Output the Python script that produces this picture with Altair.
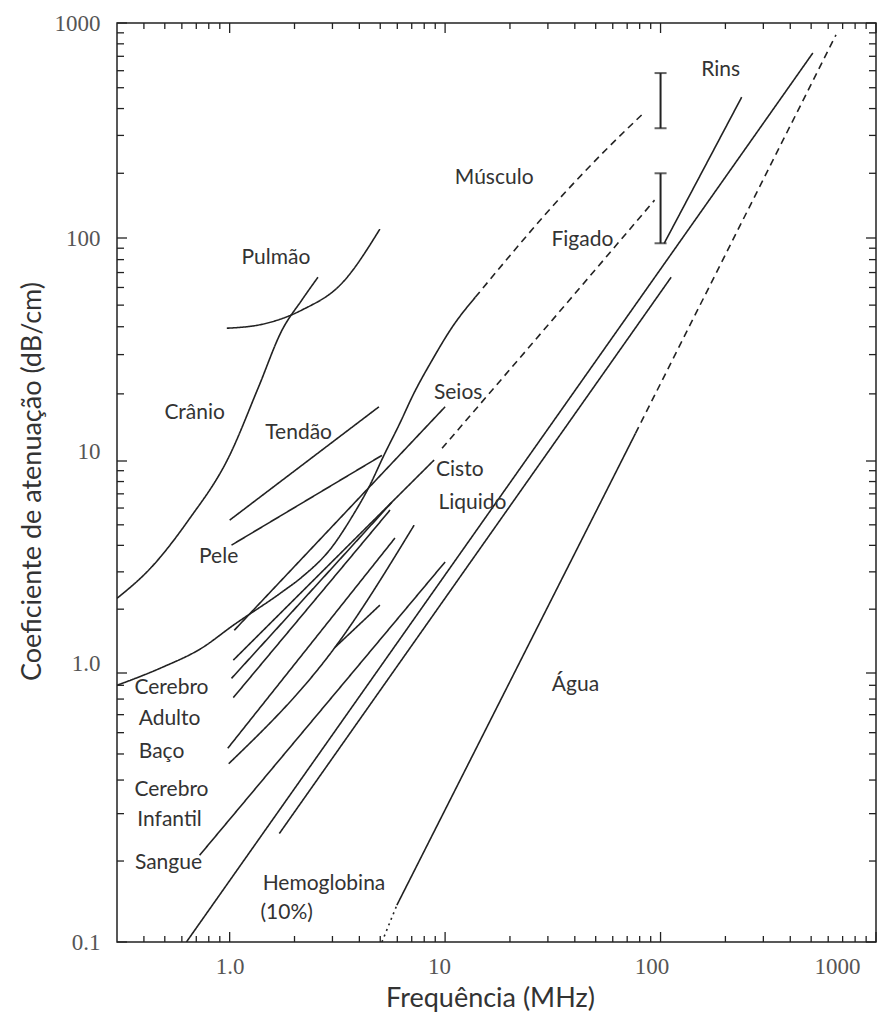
import altair as alt
import pandas as pd

# ---------------- axis ticks ----------------
x_major = [1, 10, 100, 1000]
x_minor = [0.4, 0.5, 0.6, 0.7, 0.8, 0.9, 2, 3, 4, 5, 6, 7, 8, 9,
           20, 30, 40, 50, 60, 70, 80, 90, 200, 300, 400, 500, 600, 700, 800, 900]
y_major = [0.1, 1, 10, 100, 1000]
y_minor = [0.2, 0.3, 0.4, 0.5, 0.6, 0.7, 0.8, 0.9, 2, 3, 4, 5, 6, 7, 8, 9,
           20, 30, 40, 50, 60, 70, 80, 90, 200, 300, 400, 500, 600, 700, 800, 900]

# ---------------- curves (frequency MHz, attenuation dB/cm) ----------------
pulmao_x = [0.97, 1.41, 2.16, 3.32, 4.98]
pulmao_y = [39.4, 41, 47.5, 62.7, 110]
cranio_x = [0.3, 0.434, 0.644, 0.99, 1.36, 1.75, 2.16, 2.57]
cranio_y = [2.25, 3.16, 5.26, 10.4, 21.4, 38.6, 52.6, 66.7]
tendao_x = [1.0, 4.93]
tendao_y = [5.26, 17.5]
pele_x = [1.02, 5.09]
pele_y = [4.01, 10.6]
musculo_x = [0.3, 0.483, 0.741, 1.04, 1.75, 2.16, 2.98, 3.69, 4.43, 5.2, 6.11, 7.18, 8.70, 10.78, 13.8]
musculo_y = [0.90, 1.06, 1.31, 1.68, 2.41, 2.83, 3.92, 5.44, 7.53, 10.6, 14.5, 20.2, 28.3, 39.8, 54.2]
musculo_ext_x = [13.8, 36.9, 55.5, 83.4]
musculo_ext_y = [54.2, 167, 256, 381]
figado_x = [1.04, 8.89]
figado_y = [1.15, 10.1]
figado_ext_x = [9.68, 37.7, 93.8]
figado_ext_y = [11.4, 52.6, 150]
rins_x = [104, 238]
rins_y = [94.7, 452]
seios_x = [1.05, 10]
seios_y = [1.59, 17.5]
cerebro_a1_x = [1.02, 5.67]
cerebro_a1_y = [0.955, 6.4]
cerebro_a2_x = [1.04, 5.55]
cerebro_a2_y = [0.81, 5.87]
baco1_x = [0.98, 5.85]
baco1_y = [0.525, 4.33]
baco2_x = [0.99, 3.08, 7.18]
baco2_y = [0.46, 1.32, 4.98]
infantil_x = [3.08, 4.98]
infantil_y = [1.32, 2.09]
sangue_x = [0.725, 10]
sangue_y = [0.21, 3.34]
linha1_x = [1.70, 112]
linha1_y = [0.253, 66.7]
hemoglobina_x = [0.63, 509]
hemoglobina_y = [0.1, 725]
agua_dot_x = [5.09, 5.97]
agua_dot_y = [0.1, 0.137]
agua_x = [5.97, 76.5]
agua_y = [0.137, 13.3]
agua_ext_x = [76.5, 652]
agua_ext_y = [13.3, 880]

series = [
    ("pulmao", "solid", pulmao_x, pulmao_y),
    ("cranio", "solid", cranio_x, cranio_y),
    ("tendao", "solid", tendao_x, tendao_y),
    ("pele", "solid", pele_x, pele_y),
    ("musculo", "solid", musculo_x, musculo_y),
    ("musculo_ext", "dashed", musculo_ext_x, musculo_ext_y),
    ("figado", "solid", figado_x, figado_y),
    ("figado_ext", "dashed", figado_ext_x, figado_ext_y),
    ("rins", "solid", rins_x, rins_y),
    ("seios", "solid", seios_x, seios_y),
    ("cerebro_a1", "solid", cerebro_a1_x, cerebro_a1_y),
    ("cerebro_a2", "solid", cerebro_a2_x, cerebro_a2_y),
    ("baco1", "solid", baco1_x, baco1_y),
    ("baco2", "solid", baco2_x, baco2_y),
    ("infantil", "solid", infantil_x, infantil_y),
    ("sangue", "solid", sangue_x, sangue_y),
    ("linha1", "solid", linha1_x, linha1_y),
    ("hemoglobina", "solid", hemoglobina_x, hemoglobina_y),
    ("agua_dot", "dotted", agua_dot_x, agua_dot_y),
    ("agua", "solid", agua_x, agua_y),
    ("agua_ext", "dashed", agua_ext_x, agua_ext_y),
]

# error bars at 100 MHz
err_x = [100, 100]
err_lo = [324, 94.7]
err_hi = [585, 200]

# text annotations
label_text = ["Pulmão", "Crânio", "Tendão", "Pele", "Seios", "Cisto", "Liquido",
              "Músculo", "Figado", "Rins", "Água", "Cerebro", "Adulto", "Baço",
              "Cerebro", "Infantil", "Sangue", "Hemoglobina", "(10%)"]
label_x = [1.64, 0.688, 2.09, 0.889, 11.5, 11.7, 13.4, 16.9, 43.4, 190, 40.3,
           0.537, 0.526, 0.483, 0.537, 0.526, 0.52, 2.74, 1.84]
label_y = [81, 16.4, 13.4, 3.52, 20.1, 9.06, 6.34, 190, 97.5, 604, 0.90,
           0.877, 0.672, 0.507, 0.366, 0.283, 0.196, 0.164, 0.128]

# ---------------- build tables ----------------
rows = []
for name, style, xs, ys in series:
    for i, (xv, yv) in enumerate(zip(xs, ys)):
        rows.append({"seg": name, "style": style, "i": i, "x": xv, "y": yv})
lines_df = pd.DataFrame(rows)
err_df = pd.DataFrame({"x": err_x, "lo": err_lo, "hi": err_hi})
cap_df = pd.DataFrame({"x": err_x + err_x, "y": err_lo + err_hi})
text_df = pd.DataFrame({"t": label_text, "x": label_x, "y": label_y})

W, H = 759, 919
xscale = alt.Scale(type="log", domain=[0.3, 1000], nice=False)
yscale = alt.Scale(type="log", domain=[0.1, 1, 10, 100, 1000],
                   range=[919, 650, 438, 215, 0], nice=False)
INK = "#222"

x_axis = alt.Axis(
    values=x_major, title="Frequência (MHz)",
    labelExpr="datum.value == 1 ? '1.0' : '' + datum.value",
    labelOffset={"condition": [{"test": "datum.value == 10", "value": -6},
                               {"test": "datum.value == 100", "value": -9},
                               {"test": "datum.value == 1000", "value": -16}],
                 "value": 0},
    labelPadding=13, titleX=373, titleY=64, titleBaseline="alphabetic")
y_axis = alt.Axis(
    values=y_major, title="Coeficiente de atenuação (dB/cm)",
    labelExpr="datum.value == 1 ? '1.0' : datum.value < 1 ? '0.1' : '' + datum.value",
    labelOffset={"condition": [{"test": "datum.value == 10 || datum.value == 1", "value": -10}],
                 "value": 0},
    labelPadding=17, titleX=-77, titleY=458, titleAngle=270,
    titleBaseline="alphabetic", titleAlign="center")

X = lambda f: alt.X(f, scale=xscale, axis=x_axis)
Y = lambda f: alt.Y(f, scale=yscale, axis=y_axis)

lines = alt.Chart(lines_df).mark_line(color=INK, strokeWidth=1.6, clip=True,
                                      interpolate="monotone").encode(
    x=X("x:Q"),
    y=Y("y:Q"),
    detail="seg:N",
    order="i:Q",
    strokeDash=alt.StrokeDash("style:N", scale=alt.Scale(
        domain=["solid", "dashed", "dotted"], range=[[1, 0], [7, 5], [2, 4]]), legend=None),
)

err = alt.Chart(err_df).mark_rule(color=INK, strokeWidth=2).encode(
    x=X("x:Q"), y=Y("lo:Q"), y2="hi:Q")
caps = alt.Chart(cap_df).mark_tick(color=INK, orient="horizontal", size=12, thickness=2).encode(
    x=X("x:Q"), y=Y("y:Q"))

text = alt.Chart(text_df).mark_text(font="Lato", fontSize=21, color="#333",
                                     align="center", baseline="middle").encode(
    x=X("x:Q"), y=Y("y:Q"), text="t:N")


def yticks(vals, x0, x1):
    return alt.Chart(pd.DataFrame({"y": vals})).mark_rule(color=INK, strokeWidth=1.3).encode(
        y=Y("y:Q"), x=alt.value(x0), x2=alt.value(x1))


def xticks(vals, y0, y1):
    return alt.Chart(pd.DataFrame({"x": vals})).mark_rule(color=INK, strokeWidth=1.3).encode(
        x=X("x:Q"), y=alt.value(y0), y2=alt.value(y1))


ticks = [
    yticks(y_major, 0, 10), yticks(y_minor, 0, 7),
    yticks(y_major, W, W - 10), yticks(y_minor, W, W - 7),
    xticks(x_major, H, H - 10), xticks(x_minor, H, H - 6),
    xticks(x_major, 0, 10), xticks(x_minor, 0, 6),
]

chart = alt.layer(lines, err, caps, text, *ticks).properties(
    width=W, height=H,
    padding={"left": 109, "top": 15, "right": 9, "bottom": 75},
    autosize=alt.AutoSizeParams(type="none"),
).configure_view(stroke=INK, strokeWidth=1.5).configure_axis(
    grid=False, domain=False, ticks=False,
    labelFont="Liberation Serif", labelFontSize=23, labelColor="#555",
    titleFont="Lato", titleFontSize=27, titleColor="#333", titleFontWeight="normal",
)

chart.save("out.html", embed_options={"renderer": "svg", "actions": False})
